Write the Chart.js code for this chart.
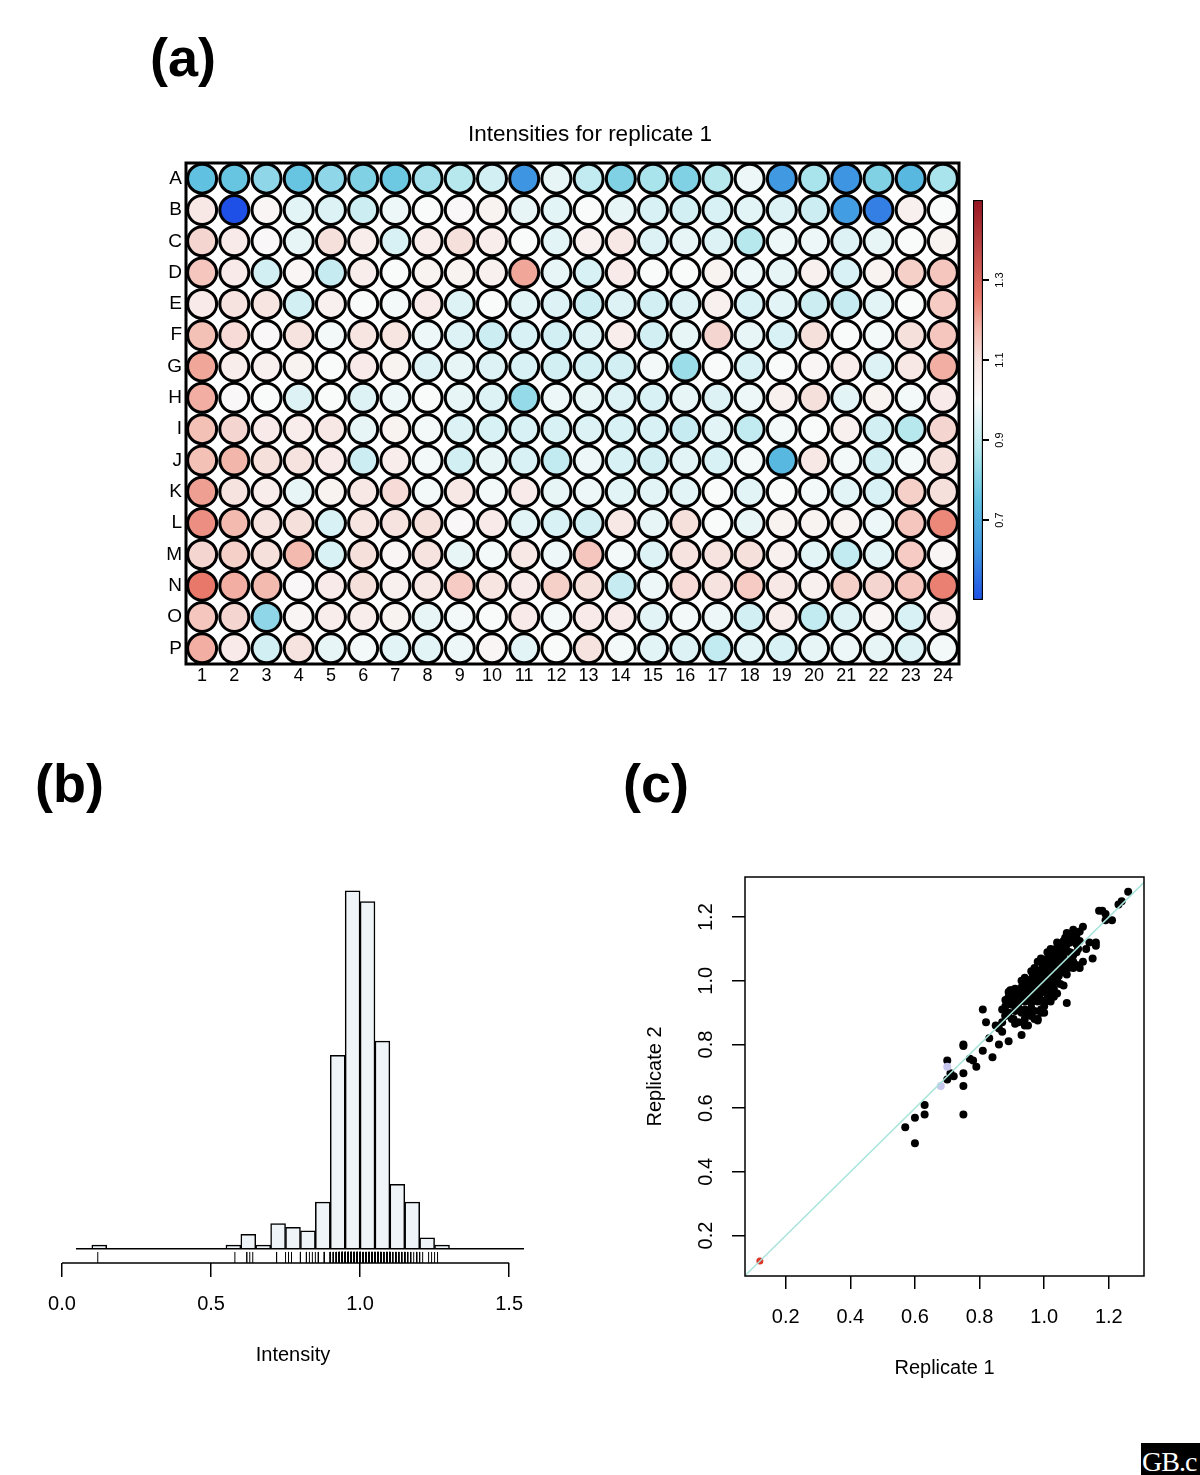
<!DOCTYPE html>
<html>
<head>
<meta charset="utf-8">
<script src="https://cdn.jsdelivr.net/npm/chart.js@4.4.1/dist/chart.umd.min.js"></script>
<style>
  body { margin: 0; width: 1200px; height: 1475px; background: #fff; position: relative; overflow: hidden;
         font-family: 'Liberation Sans', Arial, sans-serif; }
  .tag { position: absolute; font-weight: bold; font-size: 54px; line-height: 1; color: #000; }
  .box { position: absolute; }
  .box canvas { display: block; }
  #logo { position: absolute; left: 1141px; top: 1443px; width: 59px; height: 32px; background: #000; color: #fff;
          font-family: 'Liberation Serif', serif; font-size: 28px; line-height: 38px; overflow: hidden;
          white-space: nowrap; padding-left: 1px; box-sizing: border-box; letter-spacing: -1px; }
</style>
</head>
<body>
<div class="tag" style="left:150px; top:30px">(a)</div>
<div class="tag" style="left:35px; top:756px">(b)</div>
<div class="tag" style="left:623px; top:756px">(c)</div>

<div class="box" style="left:140px; top:100px"><canvas id="plate" width="900" height="600"></canvas></div>
<div class="box" style="left:960px; top:180px"><canvas id="colourbar" width="60" height="440"></canvas></div>
<div class="box" style="left:30px; top:860px"><canvas id="hist" width="520" height="520"></canvas></div>
<div class="box" style="left:630px; top:860px"><canvas id="scatter" width="540" height="540"></canvas></div>
<div id="logo">GB.c</div>

<script>
// ---- (a) plate intensities, replicate 1 (rows A..P, columns 1..24) ----
const plateTitle = 'Intensities for replicate 1';
const rowLabels  = ['A','B','C','D','E','F','G','H','I','J','K','L','M','N','O','P'];
const colNumbers = [1,2,3,4,5,6,7,8,9,10,11,12,13,14,15,16,17,18,19,20,21,22,23,24];

const rowA = [0.75,0.76,0.82,0.76,0.82,0.80,0.77,0.85,0.88,0.93,0.62,0.97,0.90,0.80,0.86,0.80,0.88,0.98,0.63,0.86,0.62,0.80,0.72,0.86];
const rowB = [1.07,0.12,1.02,0.96,0.95,0.92,0.98,1.00,1.01,1.03,0.97,0.96,1.00,0.97,0.94,0.93,0.94,0.96,0.95,0.92,0.64,0.58,1.04,1.00];
const rowC = [1.12,1.06,1.01,0.97,1.10,1.05,0.94,1.05,1.10,1.05,1.00,0.96,1.04,1.07,0.95,0.97,0.95,0.88,0.98,0.98,0.95,0.97,1.00,1.03];
const rowD = [1.15,1.06,0.93,1.02,0.91,1.05,1.00,1.03,1.03,1.04,1.20,0.97,0.94,1.06,1.00,1.00,1.03,0.98,0.97,1.04,0.94,1.03,1.13,1.15];
const rowE = [1.06,1.09,1.08,0.93,1.04,1.00,0.99,1.06,0.95,1.00,0.96,0.95,0.92,0.95,0.93,0.95,1.04,0.94,0.96,0.92,0.91,0.96,1.00,1.14];
const rowF = [1.16,1.11,1.01,1.09,0.99,1.08,1.08,0.98,0.95,0.92,0.94,0.93,0.95,1.05,0.93,0.97,1.12,0.97,0.94,1.10,1.00,0.99,1.10,1.15];
const rowG = [1.20,1.05,1.04,1.03,1.00,1.06,1.03,0.95,0.97,0.95,0.94,0.93,0.93,0.93,0.99,0.84,1.00,0.94,1.00,1.02,1.05,0.95,1.07,1.19];
const rowH = [1.19,1.01,1.00,0.95,1.00,0.95,0.98,1.00,0.97,0.95,0.83,0.98,0.97,0.95,0.94,0.97,0.95,0.98,1.04,1.10,0.96,1.03,0.99,1.06];
const rowI = [1.16,1.12,1.06,1.05,1.07,0.97,1.03,0.99,0.95,0.94,0.94,0.94,0.95,0.94,0.94,0.91,0.96,0.90,0.99,1.00,1.04,0.93,0.88,1.12];
const rowJ = [1.16,1.18,1.10,1.09,1.06,0.92,1.05,0.99,0.93,0.97,0.94,0.90,0.98,0.94,0.93,0.96,0.94,0.99,0.72,1.07,0.99,0.93,0.99,1.10];
const rowK = [1.21,1.09,1.05,0.97,1.03,1.07,1.11,0.99,1.07,0.99,1.06,0.97,0.98,0.96,0.96,0.96,1.00,0.96,1.00,0.99,0.96,0.94,1.13,1.10];
const rowL = [1.23,1.17,1.09,1.10,0.94,1.08,1.09,1.10,1.01,1.06,0.96,0.94,0.93,1.07,0.97,1.10,1.00,0.97,1.03,1.03,1.03,0.98,1.15,1.24];
const rowM = [1.12,1.13,1.10,1.17,0.94,1.10,1.02,1.09,0.97,0.99,1.07,0.98,1.15,0.99,0.95,1.09,1.09,1.10,1.04,0.96,0.90,0.96,1.14,1.02];
const rowN = [1.26,1.19,1.17,1.01,1.06,1.10,1.04,1.07,1.14,1.08,1.06,1.13,1.10,0.91,0.98,1.11,1.09,1.14,1.07,1.04,1.13,1.12,1.15,1.25];
const rowO = [1.15,1.12,0.82,1.02,1.05,1.05,1.03,0.97,0.99,1.00,1.06,0.99,1.06,1.06,0.96,0.99,0.98,0.93,1.05,0.90,0.95,1.02,0.94,1.06];
const rowP = [1.19,1.06,0.93,1.09,0.97,0.99,0.96,0.96,0.98,1.02,0.96,1.00,1.09,0.99,0.96,0.95,0.90,0.96,0.94,0.97,0.98,0.97,0.95,0.99];
const plateRows = [rowA,rowB,rowC,rowD,rowE,rowF,rowG,rowH,rowI,rowJ,rowK,rowL,rowM,rowN,rowO,rowP];

// colour key
const colourRange = [0.5, 1.5];
const colourTicks = [0.7, 0.9, 1.1, 1.3];

// ---- (b) histogram of intensities (bin width 0.05) ----
const binCentres = [0.125,0.575,0.625,0.675,0.725,0.775,0.825,0.875,0.925,0.975,1.025,1.075,1.125,1.175,1.225,1.275];
const binCounts  = [1,1,4,1,7,6,5,13,54,100,97,58,18,13,3,1];
const histTicks  = [0, 0.5, 1.0, 1.5];

// ---- (c) replicate 1 vs replicate 2 ----
const controlPairs = [[0.12,0.12]];
const flaggedPairs = [[0.68,0.67],[0.70,0.73]];
const outlierPairs = [
  [0.57,0.54],[0.60,0.49],[0.60,0.57],[0.63,0.58],[0.63,0.61],
  [0.70,0.75],[0.70,0.69],[0.71,0.71],[0.72,0.70],
  [0.75,0.80],[0.75,0.795],[0.75,0.71],[0.75,0.67],[0.75,0.58],
  [0.77,0.755],[0.78,0.75],[0.79,0.73],[0.81,0.78],[0.84,0.76],
  [0.81,0.91],[0.82,0.87],[0.83,0.82],[0.86,0.85],[0.87,0.84],[0.86,0.80],[0.89,0.81],[0.87,0.87],
  [0.93,0.83],[0.94,0.86],[0.89,0.965],[0.98,0.88],[1.00,0.90],[1.03,0.95],[1.07,0.93],
  [1.02,1.10],[1.09,1.16],[1.12,1.17],[1.15,1.07],[1.14,1.12],
  [1.17,1.22],[1.18,1.22],[1.19,1.21],[1.21,1.19],[1.19,1.19],[1.23,1.24],[1.24,1.25],[1.26,1.28],
  [1.16,1.12],[1.16,1.11],[1.13,1.10],[1.12,1.06],[1.11,1.04],[1.09,1.04],
  [0.85,0.86],[0.88,0.89],[0.905,0.88],[0.97,0.88],[0.99,0.90],[0.96,0.89],[0.895,0.97]
];
const clusterPairs = [
  [0.88,0.89],[0.90,0.88],[0.92,0.87],[0.94,0.88],[0.96,0.89],[0.98,0.875],[0.91,0.865],[0.95,0.86],
  [0.87,0.91],[0.88,0.92],[0.89,0.90],[0.91,0.905],[0.92,0.915],[0.93,0.90],[0.94,0.91],[0.95,0.90],
  [0.96,0.915],[0.97,0.905],[0.99,0.91],[1.00,0.92],[0.90,0.925],
  [0.88,0.94],[0.89,0.95],[0.90,0.935],[0.91,0.945],[0.92,0.93],[0.93,0.95],[0.94,0.935],[0.95,0.945],
  [0.96,0.93],[0.97,0.945],[0.98,0.935],[0.99,0.94],[1.00,0.93],[1.01,0.945],[0.905,0.955],[0.925,0.96],
  [0.945,0.955],[0.965,0.96],[0.985,0.955],[1.02,0.935],
  [0.90,0.97],[0.91,0.975],[0.92,0.97],[0.93,0.98],[0.94,0.965],[0.95,0.975],[0.96,0.97],[0.97,0.98],
  [0.98,0.965],[0.99,0.975],[1.00,0.965],[1.01,0.97],[1.02,0.96],[1.03,0.975],[0.935,0.99],[0.955,0.985],
  [0.975,0.99],[0.995,0.985],[1.015,0.985],[1.04,0.96],
  [0.93,1.00],[0.94,1.01],[0.95,0.995],[0.96,1.005],[0.97,1.00],[0.98,1.01],[0.99,0.995],[1.00,1.005],
  [1.01,1.00],[1.02,1.01],[1.03,0.995],[1.04,1.00],[1.05,0.99],[0.965,1.02],[0.985,1.02],[1.005,1.02],
  [1.025,1.02],[1.045,1.015],[1.06,0.985],
  [0.96,1.03],[0.97,1.04],[0.98,1.03],[0.99,1.035],[1.00,1.04],[1.01,1.03],[1.02,1.04],[1.03,1.03],
  [1.04,1.035],[1.05,1.025],[1.06,1.03],[1.07,1.02],[0.995,1.05],[1.015,1.055],[1.035,1.05],[1.055,1.045],
  [1.075,1.04],
  [0.98,1.06],[0.99,1.07],[1.00,1.065],[1.01,1.07],[1.02,1.06],[1.03,1.07],[1.04,1.065],[1.05,1.06],
  [1.06,1.07],[1.07,1.06],[1.08,1.05],[1.09,1.06],[1.10,1.05],[1.085,1.075],
  [1.01,1.09],[1.02,1.085],[1.03,1.09],[1.04,1.08],[1.05,1.09],[1.06,1.085],[1.07,1.095],[1.08,1.09],
  [1.09,1.08],[1.10,1.09],[1.105,1.10],[1.035,1.10],[1.055,1.105],
  [1.04,1.12],[1.05,1.11],[1.06,1.125],[1.07,1.115],[1.08,1.12],[1.09,1.13],[1.10,1.115],[1.11,1.125],
  [1.065,1.135],[1.085,1.14],
  [1.07,1.15],[1.10,1.145],[1.11,1.155]
];
const scatterTicks = [0.2, 0.4, 0.6, 0.8, 1.0, 1.2];
const diagonal = [0, 1.5];

// ---------------------------------------------------------------
const FONT = "'Liberation Sans', Arial, sans-serif";
Chart.defaults.font.family = FONT;
Chart.defaults.color = '#000';
Chart.defaults.animation = false;
Chart.defaults.events = [];
Chart.defaults.plugins.legend.display = false;
Chart.defaults.plugins.tooltip.enabled = false;

// blue - white - red colour scale
const keyStops = [0.5, 0.62, 0.75, 0.87, 1.0, 1.1, 1.18, 1.26, 1.5];
const keyRGB = [[30,80,232],[62,150,226],[96,194,224],[176,230,237],[249,250,250],[246,224,220],[243,182,170],[232,120,106],[150,20,32]];

function wellColour(v) {
    if (v <= keyStops[0]) return 'rgb(' + keyRGB[0].join(',') + ')';
    for (let i = 1; i < keyStops.length; i++) {
        if (v <= keyStops[i]) {
            const t = (v - keyStops[i - 1]) / (keyStops[i] - keyStops[i - 1]);
            const a = keyRGB[i - 1], b = keyRGB[i];
            return 'rgb(' + a.map((c, k) => Math.round(c + (b[k] - c) * t)).join(',') + ')';
        }
    }
    return 'rgb(' + keyRGB[keyRGB.length - 1].join(',') + ')';
}

// box around the plotting region
function framePlugin(width) {
    return {
        id: 'frame',
        afterDatasetsDraw(chart) {
            const { ctx, chartArea: a } = chart;
            ctx.save();
            ctx.lineWidth = width;
            ctx.strokeStyle = '#000';
            ctx.strokeRect(a.left, a.top, a.right - a.left, a.bottom - a.top);
            ctx.restore();
        }
    };
}

// y tick labels written parallel to the axis (R style)
function sideLabels(axisId, x, size) {
    return {
        id: 'sideLabels',
        afterDraw(chart) {
            const scale = chart.scales[axisId];
            const ctx = chart.ctx;
            ctx.save();
            ctx.fillStyle = '#000';
            ctx.font = size + 'px ' + FONT;
            ctx.textAlign = 'center';
            ctx.textBaseline = 'middle';
            scale.ticks.forEach(function(t) {
                ctx.save();
                ctx.translate(x, scale.getPixelForValue(t.value));
                ctx.rotate(-Math.PI / 2);
                ctx.fillText(t.value.toFixed(1), 0, 0);
                ctx.restore();
            });
            ctx.restore();
        }
    };
}

// =====================
// (a) plate
// =====================
const wells = [];
plateRows.forEach(function(vals, r) {
    vals.forEach(function(v, c) {
        wells.push({ x: colNumbers[c], y: r + 1, v: v });
    });
});

new Chart(document.getElementById('plate'), {
    type: 'scatter',
    data: {
        datasets: [{
            data: wells,
            pointRadius: 14.5,
            borderWidth: 3,
            borderColor: '#000',
            backgroundColor: c => wellColour(c.raw ? c.raw.v : 1)
        }]
    },
    options: {
        responsive: false,
        layout: { padding: { left: 0, right: 81, top: 63, bottom: 0 } },
        scales: {
            x: {
                type: 'linear', min: 0.5, max: 24.5,
                afterBuildTicks: s => { s.ticks = colNumbers.map(v => ({ value: v })); },
                afterFit: s => { s.height = 36; },
                grid: { display: false },
                border: { display: false },
                ticks: { font: { size: 18 }, padding: -7, maxRotation: 0, autoSkip: false }
            },
            y: {
                type: 'linear', reverse: true, min: 0.5, max: 16.5,
                afterBuildTicks: s => { s.ticks = rowLabels.map((l, i) => ({ value: i + 1 })); },
                afterFit: s => { s.width = 46; },
                grid: { display: false },
                border: { display: false },
                ticks: { font: { size: 19 }, padding: -4, autoSkip: false, callback: v => rowLabels[v - 1] }
            }
        }
    },
    plugins: [framePlugin(3), {
        id: 'plateTitle',
        afterDraw(chart) {
            const ctx = chart.ctx;
            ctx.save();
            ctx.fillStyle = '#000';
            ctx.font = '22.5px ' + FONT;
            ctx.textAlign = 'center';
            ctx.textBaseline = 'middle';
            ctx.fillText(plateTitle, chart.width / 2, 35);
            ctx.restore();
        }
    }]
});

// colour key
new Chart(document.getElementById('colourbar'), {
    type: 'bar',
    data: {
        labels: [''],
        datasets: [{
            data: [[colourRange[0], colourRange[1]]],
            barPercentage: 1,
            categoryPercentage: 1,
            borderColor: '#000',
            borderWidth: 1.5,
            borderSkipped: false,
            backgroundColor: function(c) {
                const area = c.chart.chartArea;
                if (!area) return '#fff';
                const g = c.chart.ctx.createLinearGradient(0, area.bottom, 0, area.top);
                keyStops.forEach(function(s, i) {
                    g.addColorStop((s - colourRange[0]) / (colourRange[1] - colourRange[0]), 'rgb(' + keyRGB[i].join(',') + ')');
                });
                return g;
            }
        }]
    },
    options: {
        responsive: false,
        layout: { padding: { left: 13, right: 0, top: 20, bottom: 20 } },
        scales: {
            x: { display: false },
            y: {
                position: 'right', min: colourRange[0], max: colourRange[1],
                afterBuildTicks: s => { s.ticks = colourTicks.map(v => ({ value: v })); },
                afterFit: s => { s.width = 37; },
                grid: { drawOnChartArea: false, tickLength: 6, color: '#000', lineWidth: 2 },
                border: { display: false },
                ticks: { display: false }
            }
        }
    },
    plugins: [sideLabels('y', 40, 11)]
});

// =====================
// (b) histogram with rug
// =====================
const rugValues = plateRows.flat();

new Chart(document.getElementById('hist'), {
    type: 'bar',
    data: {
        datasets: [
            {
                type: 'scatter',
                data: rugValues.map(v => ({ x: v, y: -2.45 })),
                pointStyle: 'line',
                rotation: 90,
                pointRadius: 5.5,
                borderWidth: 1,
                borderColor: '#000',
                order: 0
            },
            {
                data: binCentres.map((x, i) => ({ x: x, y: binCounts[i] })),
                backgroundColor: '#eef4f7',
                borderColor: '#000',
                borderWidth: 1.5,
                barPercentage: 1,
                categoryPercentage: 1,
                order: 1
            }
        ]
    },
    options: {
        responsive: false,
        layout: { padding: { left: 32, right: 26, top: 20, bottom: 0 } },
        scales: {
            x: {
                type: 'linear', min: 0, max: 1.55, offset: false,
                afterBuildTicks: s => { s.ticks = histTicks.map(v => ({ value: v })); },
                afterFit: s => { s.height = 117; },
                grid: { offset: false, drawOnChartArea: false, tickLength: 14, color: '#000', lineWidth: 1.5 },
                border: { display: false },
                ticks: { font: { size: 20 }, padding: 15, maxRotation: 0, callback: v => v.toFixed(1) },
                title: { display: true, text: 'Intensity', font: { size: 20 }, padding: { top: 0, bottom: 13 } }
            },
            y: { display: false, min: -4, max: 103 }
        }
    },
    plugins: [{
        id: 'histLines',
        afterDatasetsDraw(chart) {
            const { ctx, chartArea: a, scales: { x, y } } = chart;
            ctx.save();
            ctx.strokeStyle = '#000';
            ctx.lineWidth = 1.5;
            // zero line of the histogram
            ctx.beginPath();
            ctx.moveTo(x.getPixelForValue(0.047), y.getPixelForValue(0));
            ctx.lineTo(a.right, y.getPixelForValue(0));
            ctx.stroke();
            // axis line from first to last tick
            ctx.beginPath();
            ctx.moveTo(x.getPixelForValue(histTicks[0]), a.bottom);
            ctx.lineTo(x.getPixelForValue(histTicks[histTicks.length - 1]), a.bottom);
            ctx.stroke();
            ctx.restore();
        }
    }]
});

// =====================
// (c) replicate scatter
// =====================
const toXY = p => ({ x: p[0], y: p[1] });

new Chart(document.getElementById('scatter'), {
    type: 'scatter',
    data: {
        datasets: [
            {
                type: 'line',
                data: diagonal.map(v => ({ x: v, y: v })),
                borderColor: '#a8e4da',
                borderWidth: 1.5,
                pointRadius: 0,
                order: 0
            },
            {
                data: clusterPairs.concat(outlierPairs).map(toXY),
                pointRadius: 4,
                borderWidth: 0,
                backgroundColor: '#000',
                order: 2
            },
            {
                data: flaggedPairs.map(toXY),
                pointRadius: 4,
                borderWidth: 0,
                backgroundColor: '#c6c6ee',
                order: 1
            },
            {
                data: controlPairs.map(toXY),
                pointRadius: 3.5,
                borderWidth: 0,
                backgroundColor: '#dd3328',
                order: 1
            }
        ]
    },
    options: {
        responsive: false,
        layout: { padding: { left: 0, right: 26, top: 17, bottom: 0 } },
        scales: {
            x: {
                type: 'linear', min: 0.074, max: 1.309,
                afterBuildTicks: s => { s.ticks = scatterTicks.map(v => ({ value: v })); },
                afterFit: s => { s.height = 124; },
                grid: { drawOnChartArea: false, tickLength: 13, color: '#000', lineWidth: 1.5 },
                border: { display: false },
                ticks: { font: { size: 20 }, padding: 16, maxRotation: 0, callback: v => v.toFixed(1) },
                title: { display: true, text: 'Replicate 1', font: { size: 20 }, padding: { top: 0, bottom: 20 } }
            },
            y: {
                type: 'linear', min: 0.073, max: 1.326,
                afterBuildTicks: s => { s.ticks = scatterTicks.map(v => ({ value: v })); },
                afterFit: s => { s.width = 115; },
                grid: { drawOnChartArea: false, tickLength: 13, color: '#000', lineWidth: 1.5 },
                border: { display: false },
                ticks: { display: false },
                title: { display: true, text: 'Replicate 2', font: { size: 20 }, padding: { top: 13, bottom: 0 } }
            }
        }
    },
    plugins: [framePlugin(1.5), sideLabels('y', 76, 20)]
});
</script>
</body>
</html>
